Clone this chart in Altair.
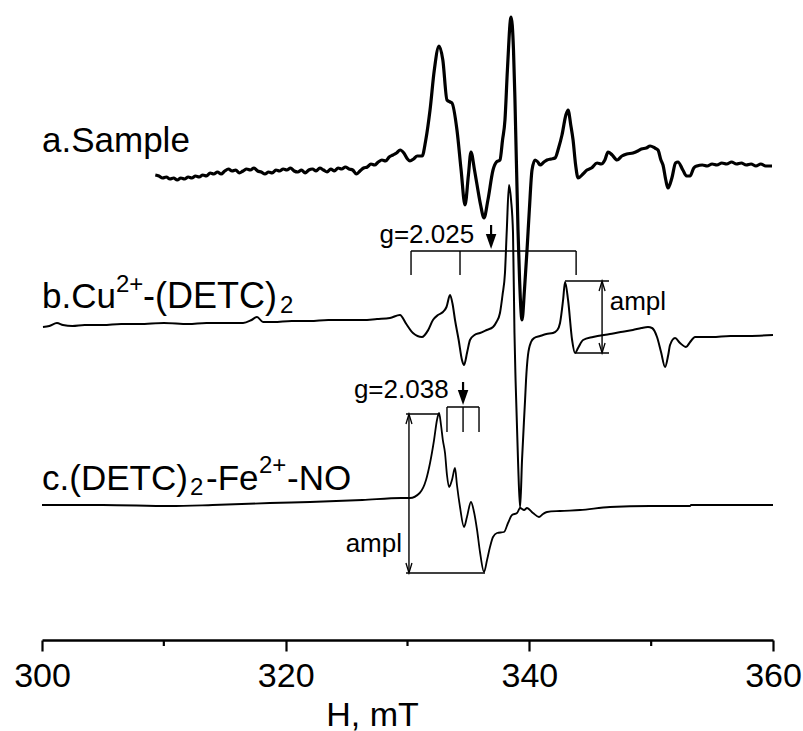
import altair as alt
import pandas as pd

# ---------------- data (field in mT, intensity in arbitrary units incl. offsets) -------------
a_field = [309.3, 309.6, 309.9, 310.2, 310.5, 310.8, 311.1, 311.4, 311.7, 312.0, 312.3, 312.6,
           312.9, 313.2, 313.5, 313.8, 314.1, 314.4, 314.7, 315.0, 315.3, 315.6, 315.9, 316.2,
           316.5, 316.8, 317.1, 317.4, 317.7, 318.0, 318.3, 318.6, 318.9, 319.2, 319.5, 319.8,
           320.1, 320.4, 320.7, 321.0, 321.3, 321.6, 321.9, 322.2, 322.5, 322.8, 323.1, 323.4,
           323.7, 324.0, 324.3, 324.6, 324.9, 325.2, 325.5, 325.8, 326.1, 326.4, 326.7, 327.0,
           327.3, 327.6, 327.9, 328.2, 328.5, 328.8, 329.1, 329.4, 329.7, 330.0, 330.2, 330.5,
           330.8, 331.2, 331.5, 331.85, 332.2, 332.59, 332.9, 333.24, 333.5, 333.65, 334.06,
           334.4, 334.72, 335.0, 335.21, 335.5, 335.71, 336.0, 336.28, 336.6, 337.02, 337.3,
           337.59, 337.8, 338.0, 338.2, 338.5, 338.7, 338.82, 339.07, 339.2, 339.4, 339.6,
           339.81, 340.0, 340.22, 340.47, 340.7, 340.88, 341.2, 341.45, 341.8, 342.11, 342.4,
           342.68, 343.0, 343.18, 343.4, 343.59, 343.8, 344.0, 344.4, 344.73, 345.1, 345.56,
           345.9, 346.2, 346.46, 346.8, 347.2, 347.6, 348.0, 348.51, 348.9, 349.2, 349.6,
           349.91, 350.3, 350.56, 350.8, 350.97, 351.2, 351.38, 351.7, 352.0, 352.2, 352.6,
           352.9, 353.19, 353.5, 353.76, 354.2, 354.6, 355.0, 355.4, 355.8, 356.2, 356.6,
           357.0, 357.4, 357.8, 358.2, 358.6, 359.0, 359.4, 359.92]
a_signal = [465, 464, 462, 463, 461, 462, 460, 462, 461, 463, 462, 464,
            463, 465, 464, 467, 466, 468, 466, 469, 471, 469, 470, 467,
            469, 471, 470, 472, 469, 468, 466, 468, 467, 470, 469, 471,
            470, 472, 469, 468, 470, 467, 470, 471, 469, 472, 470, 468,
            471, 469, 472, 471, 473, 471, 470, 466, 469, 472, 473, 476,
            475, 478, 480, 479, 483, 485, 487, 490, 487, 481, 479, 481,
            484, 484, 500, 530, 570, 594, 580, 540, 538, 537, 510,
            470, 435, 465, 488, 470, 455, 435, 422, 440, 470, 478,
            480, 500, 520, 570, 623, 590, 540, 410, 360, 320, 350,
            390, 430, 470, 480, 478, 475, 478, 480, 481, 482, 492,
            505, 525, 530, 515, 500, 475, 462, 466, 470, 472, 477,
            476, 480, 488, 485, 480, 484, 486, 487, 489, 491, 492,
            494, 492, 490, 480, 475, 460, 452, 462, 477, 478, 470,
            464, 464, 472, 474, 475, 474, 476, 475, 477, 476, 478,
            476, 477, 475, 476, 474, 476, 474, 474]

b_field = [300.08, 300.6, 301.23, 301.72, 302.5, 303.5, 305.0, 306.5, 308.0, 310.0, 312.0,
           313.5, 315.0, 316.5, 317.2, 317.65, 318.14, 319.0, 320.5, 322.0, 323.5, 325.0,
           326.35, 327.5, 328.56, 329.38, 329.9, 330.45, 331.19, 331.7, 332.09, 332.5, 332.91,
           333.2, 333.49, 333.7, 333.9, 334.2, 334.47, 334.64, 334.9, 335.13, 335.5, 335.95,
           336.5, 337.02, 337.3, 337.59, 337.8, 338.0, 338.15, 338.33, 338.5, 338.66, 338.78,
           338.87, 339.07, 339.24, 339.4, 339.65, 339.73, 339.89, 340.14, 340.4, 340.88, 341.4,
           341.94, 342.3, 342.52, 342.77, 342.93, 343.18, 343.51, 343.75, 344.0, 344.41,
           345.23, 346.62, 347.5, 348.5, 349.2, 349.74, 350.07, 350.48, 350.81, 351.14, 351.4,
           351.55, 351.96, 352.37, 352.86, 353.2, 353.6, 355.0, 356.5, 358.0, 360.0]
b_signal = [313, 314, 317, 315, 314, 315, 315, 316, 316, 317, 316,
            317, 317, 317, 320, 323, 318, 318, 319, 319, 320, 320,
            320, 321, 322, 325, 316, 307, 303, 310, 320, 325, 328,
            333, 345, 336, 320, 300, 280, 275, 288, 300, 305, 307,
            310, 313, 318, 327, 345, 367, 410, 455, 440, 407, 307,
            260, 180, 132, 180, 240, 260, 285, 298, 302, 304, 306,
            307, 310, 317, 340, 358, 340, 300, 287, 292, 300,
            303, 306, 308, 310, 312, 313, 312, 303, 288, 273, 285,
            295, 302, 297, 293, 298, 303, 303, 304, 304, 305]

c_field = [300.0, 305.0, 310.5, 314.0, 318.7, 322.0, 326.3, 329.5, 330.2, 331.0, 331.52,
           331.85, 332.18, 332.42, 332.59, 332.75, 332.9, 333.08, 333.24, 333.41, 333.65,
           333.9, 334.06, 334.31, 334.64, 334.88, 335.21, 335.46, 335.71, 335.95, 336.28,
           336.53, 336.77, 337.02, 337.35, 337.92, 338.25, 338.58, 338.99, 339.24, 339.57,
           339.81, 340.3, 340.79, 341.12, 341.45, 342.52, 344.16, 346.62, 349.91, 353.19,
           353.27, 356.5, 360.0]
c_signal = [135, 135, 134, 135, 137, 138, 140, 142, 142, 147, 160,
            177, 200, 220, 227, 215, 200, 187, 165, 153, 160,
            172, 155, 133, 113, 123, 138, 128, 110, 88, 68,
            80, 93, 103, 107, 108, 117, 125, 127, 132, 130,
            132, 127, 123, 126, 128, 129, 130, 133, 134, 134,
            135, 135, 135]

# axis ticks
major_ticks = [300, 320, 340, 360]
minor_ticks = [310, 330, 350]

# annotation line segments (bracket markers and amplitude bars)
seg_x1 = [330.29, 330.29, 334.31, 343.84, 333.24, 333.24, 334.56, 335.87,
          342.93, 343.75, 345.97, 329.88, 329.88, 330.12, 336.86, 334.56]
seg_x2 = [343.84, 330.29, 334.31, 343.84, 335.87, 333.24, 334.56, 335.87,
          346.54, 346.54, 345.97, 332.67, 336.36, 330.12, 336.86, 334.56]
seg_y1 = [389, 389, 389, 389, 233, 233, 233, 233,
          359, 287, 358, 226, 67, 225, 415, 258]
seg_y2 = [389, 365, 365, 365, 233, 208, 208, 208,
          359, 287, 288, 226, 67, 68, 398, 244]

# filled arrow heads (g-factor markers): tip positions
g_arrow_x = [336.86, 334.56]
g_arrow_y = [391, 235]

# open arrow heads of amplitude bars
up_head_x = [345.97, 330.12]
up_head_y = [359, 226]
down_head_x = [345.97, 330.12]
down_head_y = [287, 67]

# text labels
label_text = ["a.Sample",
              "b.Cu", "2+", "-(DETC)", "2",
              "c.(DETC)", "2", "-Fe", "2+", "-NO",
              "g=2.025", "g=2.038", "ampl", "ampl"]
label_x = [300.0,
           300.0, 306.07, 308.29, 319.54,
           300.0, 312.15, 313.46, 317.81, 320.11,
           327.7, 325.6, 346.6, 329.55]
label_y = [488,
           332, 348, 332, 327,
           150, 145, 150, 167, 150,
           397, 242, 330, 88]
label_size = [35,
              35, 24, 36, 24,
              35, 24, 35, 24, 35,
              26, 26, 26, 26]
label_align = ["left"] * 13 + ["right"]

# ---------------- build tables ----------------
FONT = "Liberation Sans"
xsc = alt.Scale(domain=[300, 360], nice=False, zero=False)
ysc = alt.Scale(domain=[0, 640], nice=False, zero=False)

def spec_df(f, s):
    return pd.DataFrame({"H": f, "I": s, "i": list(range(len(f)))})

dfa, dfb, dfc = spec_df(a_field, a_signal), spec_df(b_field, b_signal), spec_df(c_field, c_signal)

xenc = alt.X("H:Q", scale=xsc,
             axis=alt.Axis(values=major_ticks, title="H, mT", grid=False, format="d",
                           tickSize=11, tickWidth=2.2, domainWidth=2.5, domainColor="black",
                           tickColor="black", labelFontSize=34, labelFont=FONT,
                           labelColor="black", labelPadding=8, titleFont=FONT,
                           titleFontSize=34, titleFontWeight="normal", titleColor="black",
                           titleX=330, titleY=85, titleAlign="center",
                           titleBaseline="alphabetic", labelFlush=False))
yenc = alt.Y("I:Q", scale=ysc, axis=None)

def line(df, w):
    return alt.Chart(df).mark_line(color="black", strokeWidth=w, strokeJoin="round",
                                   interpolate="monotone", clip=False).encode(
        x=xenc, y=yenc, order="i:Q")

la = line(dfa, 3.2)
lb = line(dfb, 2.0)
lc = line(dfc, 1.8)

seg_df = pd.DataFrame({"x1": seg_x1, "x2": seg_x2, "y1": seg_y1, "y2": seg_y2})
segs = alt.Chart(seg_df).mark_rule(color="black", strokeWidth=1.4).encode(
    x=alt.X("x1:Q", scale=xsc), x2="x2:Q",
    y=alt.Y("y1:Q", scale=ysc), y2="y2:Q")
# thicker shafts for g arrows
g_shaft = alt.Chart(seg_df.iloc[-2:]).mark_rule(color="black", strokeWidth=2.2).encode(
    x=alt.X("x1:Q", scale=xsc), x2="x2:Q",
    y=alt.Y("y1:Q", scale=ysc), y2="y2:Q")

g_heads = alt.Chart(pd.DataFrame({"x": g_arrow_x, "y": g_arrow_y})).mark_point(
    shape="M-0.35,-1L0.35,-1L0,0Z", size=900, filled=True, color="black", opacity=1).encode(
    x=alt.X("x:Q", scale=xsc), y=alt.Y("y:Q", scale=ysc))

up_heads = alt.Chart(pd.DataFrame({"x": up_head_x, "y": up_head_y})).mark_point(
    shape="M-0.3,1L0,0L0.3,1", size=400, filled=False, color="black", strokeWidth=1.3,
    opacity=1).encode(x=alt.X("x:Q", scale=xsc), y=alt.Y("y:Q", scale=ysc))
down_heads = alt.Chart(pd.DataFrame({"x": down_head_x, "y": down_head_y})).mark_point(
    shape="M-0.3,-1L0,0L0.3,-1", size=400, filled=False, color="black", strokeWidth=1.3,
    opacity=1).encode(x=alt.X("x:Q", scale=xsc), y=alt.Y("y:Q", scale=ysc))

minor = alt.Chart(pd.DataFrame({"x": minor_ticks})).mark_rule(
    color="black", strokeWidth=2.2, clip=False).encode(
    x=alt.X("x:Q", scale=xsc), y=alt.value(640), y2=alt.value(646))

txt_df = pd.DataFrame({"t": label_text, "x": label_x, "y": label_y,
                       "s": label_size, "al": label_align})
txt_left = alt.Chart(txt_df[txt_df.al == "left"]).mark_text(
    align="left", baseline="alphabetic", font=FONT, color="black").encode(
    x=alt.X("x:Q", scale=xsc), y=alt.Y("y:Q", scale=ysc), text="t:N",
    size=alt.Size("s:Q", scale=None, legend=None))
txt_right = alt.Chart(txt_df[txt_df.al == "right"]).mark_text(
    align="right", baseline="alphabetic", font=FONT, color="black").encode(
    x=alt.X("x:Q", scale=xsc), y=alt.Y("y:Q", scale=ysc), text="t:N",
    size=alt.Size("s:Q", scale=None, legend=None))

chart = alt.layer(lc, lb, la, segs, g_shaft, g_heads, up_heads, down_heads, minor,
                  txt_left, txt_right).properties(
    width=731, height=640,
    autosize=alt.AutoSizeParams(type="none"),
    padding={"left": 42, "top": 0, "right": 30, "bottom": 91},
    background="white",
).configure_view(stroke=None)

chart.save("out.html", embed_options={"renderer": "svg", "actions": False})
